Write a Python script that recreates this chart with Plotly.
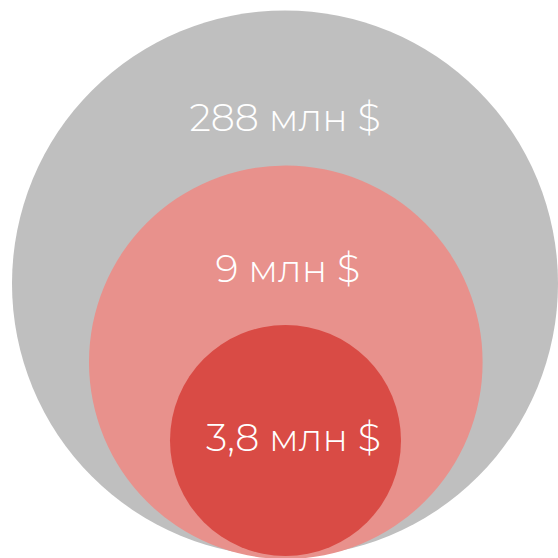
import plotly.graph_objects as go

labels = ["288 млн $", "9 млн $", "3,8 млн $"]
radii = [273, 196.8, 115.5]
centers_x = [285, 285.8, 285.5]
centers_y = [274.5, 195.8, 117.5]
colors = ["#BFBFBF", "#E8918C", "#D94B45"]
label_dy = [162, 90, -1]  # label offset above circle center
label_dx = [0, 2, 8]

fig = go.Figure()
shapes = []
for r, cx, cy, c in zip(radii, centers_x, centers_y, colors):
    shapes.append(dict(type="circle", xref="x", yref="y",
                       x0=cx - r, x1=cx + r, y0=cy - r, y1=cy + r,
                       fillcolor=c, line=dict(width=0), layer="below"))

fig.add_trace(go.Scatter(
    x=[cx + dx for cx, dx in zip(centers_x, label_dx)],
    y=[cy + dy for cy, dy in zip(centers_y, label_dy)],
    text=labels, mode="text",
    textfont=dict(family="Montserrat, Open Sans, sans-serif", size=38, color="white", weight=300),
    hoverinfo="skip", showlegend=False))

fig.update_layout(
    width=558, height=558,
    margin=dict(l=0, r=0, t=0, b=0),
    paper_bgcolor="white", plot_bgcolor="white",
    shapes=shapes,
    xaxis=dict(range=[0, 558], visible=False, fixedrange=True),
    yaxis=dict(range=[0, 558], visible=False, fixedrange=True),
)
fig.write_html("out.html", config={"displayModeBar": False},
               post_script="document.body.style.margin='0';document.body.style.overflow='hidden';")
